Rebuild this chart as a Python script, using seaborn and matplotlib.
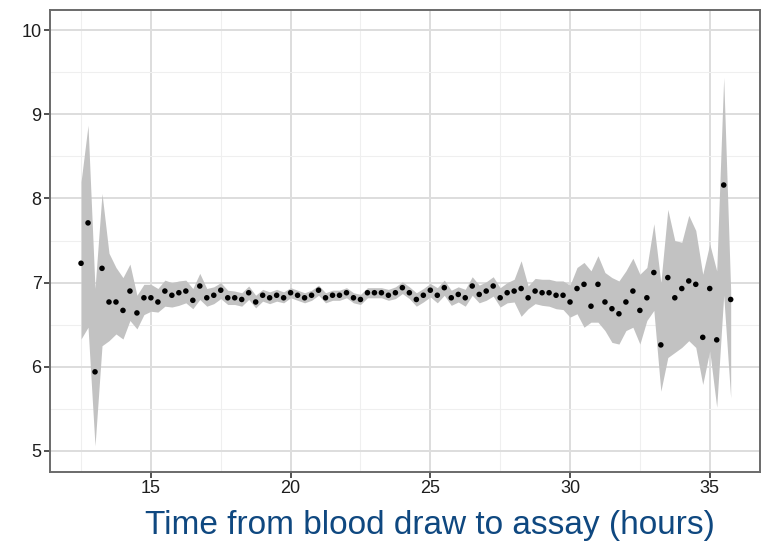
import matplotlib
matplotlib.use("Agg")
import matplotlib.pyplot as plt
from matplotlib.ticker import MultipleLocator
import seaborn as sns
import pandas as pd

hours = [12.5, 12.75, 13.0, 13.25, 13.5, 13.75, 14.0, 14.25, 14.5, 14.75,
         15.0, 15.25, 15.5, 15.75, 16.0, 16.25, 16.5, 16.75, 17.0, 17.25,
         17.5, 17.75, 18.0, 18.25, 18.5, 18.75, 19.0, 19.25, 19.5, 19.75,
         20.0, 20.25, 20.5, 20.75, 21.0, 21.25, 21.5, 21.75, 22.0, 22.25,
         22.5, 22.75, 23.0, 23.25, 23.5, 23.75, 24.0, 24.25, 24.5, 24.75,
         25.0, 25.25, 25.5, 25.75, 26.0, 26.25, 26.5, 26.75, 27.0, 27.25,
         27.5, 27.75, 28.0, 28.25, 28.5, 28.75, 29.0, 29.25, 29.5, 29.75,
         30.0, 30.25, 30.5, 30.75, 31.0, 31.25, 31.5, 31.75, 32.0, 32.25,
         32.5, 32.75, 33.0, 33.25, 33.5, 33.75, 34.0, 34.25, 34.5, 34.75,
         35.0, 35.25, 35.5, 35.75]

mean_value = [7.23, 7.71, 5.94, 7.17, 6.77, 6.77, 6.67, 6.90, 6.64, 6.82,
              6.82, 6.77, 6.90, 6.85, 6.88, 6.90, 6.79, 6.96, 6.82, 6.85,
              6.91, 6.82, 6.82, 6.80, 6.88, 6.77, 6.85, 6.82, 6.85, 6.82,
              6.88, 6.85, 6.82, 6.85, 6.91, 6.82, 6.85, 6.85, 6.88, 6.82,
              6.80, 6.88, 6.88, 6.88, 6.85, 6.88, 6.94, 6.88, 6.80, 6.85,
              6.91, 6.85, 6.94, 6.82, 6.86, 6.82, 6.96, 6.86, 6.90, 6.96,
              6.82, 6.88, 6.90, 6.93, 6.82, 6.90, 6.88, 6.88, 6.85, 6.85,
              6.77, 6.93, 6.98, 6.72, 6.98, 6.77, 6.69, 6.63, 6.77, 6.90,
              6.67, 6.82, 7.12, 6.26, 7.06, 6.82, 6.93, 7.02, 6.98, 6.35,
              6.93, 6.32, 8.16, 6.80]

lower_ci = [6.33, 6.47, 5.06, 6.25, 6.31, 6.39, 6.33, 6.55, 6.45, 6.62,
            6.66, 6.65, 6.72, 6.71, 6.73, 6.76, 6.69, 6.80, 6.72, 6.75,
            6.81, 6.74, 6.74, 6.72, 6.80, 6.70, 6.78, 6.75, 6.78, 6.76,
            6.82, 6.79, 6.76, 6.79, 6.85, 6.76, 6.79, 6.79, 6.82, 6.76,
            6.74, 6.82, 6.82, 6.82, 6.79, 6.81, 6.87, 6.81, 6.72, 6.77,
            6.83, 6.76, 6.85, 6.73, 6.77, 6.72, 6.85, 6.76, 6.79, 6.84,
            6.71, 6.76, 6.77, 6.60, 6.69, 6.75, 6.73, 6.72, 6.69, 6.68,
            6.59, 6.63, 6.47, 6.53, 6.53, 6.43, 6.29, 6.27, 6.43, 6.47,
            6.27, 6.55, 6.67, 5.71, 6.11, 6.17, 6.23, 6.31, 6.23, 5.79,
            6.19, 5.52, 6.85, 5.63]

upper_ci = [8.20, 8.87, 6.93, 8.06, 7.35, 7.18, 7.06, 7.22, 6.85, 6.98,
            6.98, 6.93, 7.03, 7.00, 7.02, 7.03, 6.93, 7.11, 6.93, 6.95,
            7.00, 6.91, 6.90, 6.88, 6.96, 6.85, 6.92, 6.89, 6.92, 6.89,
            6.94, 6.91, 6.88, 6.91, 6.97, 6.88, 6.91, 6.91, 6.94, 6.88,
            6.86, 6.94, 6.94, 6.94, 6.92, 6.95, 7.01, 6.95, 6.88, 6.93,
            6.99, 6.94, 7.03, 6.91, 6.95, 6.92, 7.07, 6.97, 7.01, 7.07,
            6.94, 7.00, 7.04, 7.26, 6.96, 7.05, 7.04, 7.04, 7.02, 7.02,
            6.97, 7.18, 7.24, 7.14, 7.32, 7.12, 7.06, 7.02, 7.14, 7.29,
            7.10, 7.18, 7.70, 7.00, 7.87, 7.50, 7.48, 7.80, 7.62, 7.10,
            7.46, 7.14, 9.44, 6.90]

x_ticks = [15, 20, 25, 30, 35]
y_ticks = [5, 6, 7, 8, 9, 10]
x_label = "Time from blood draw to assay (hours)"

assert len(hours) == len(mean_value) == len(lower_ci) == len(upper_ci)

df = pd.DataFrame({"hours": hours, "value": mean_value,
                   "lower": lower_ci, "upper": upper_ci})

sns.set_theme(style="white")
plt.rcParams["font.family"] = ["Liberation Sans", "DejaVu Sans"]

fig = plt.figure(figsize=(7.65, 5.49), dpi=100)
ax = fig.add_axes([0.0654, 0.1403, 0.9281, 0.8415])

ax.fill_between(df["hours"], df["lower"], df["upper"],
                color="#C2C2C2", linewidth=0, zorder=2)
sns.scatterplot(data=df, x="hours", y="value", ax=ax, color="black",
                s=16, marker="o", edgecolor="none", zorder=3)

ax.set_xlim(11.39, 36.8)
ax.set_ylim(4.75, 10.24)
ax.set_xticks(x_ticks)
ax.set_yticks(y_ticks)
ax.xaxis.set_minor_locator(MultipleLocator(2.5))
ax.yaxis.set_minor_locator(MultipleLocator(0.5))
ax.grid(which="major", color="#DDDDDD", linewidth=1.4, zorder=0)
ax.grid(which="minor", color="#EFEFEF", linewidth=0.8, zorder=0)
ax.set_axisbelow(True)

for sp in ax.spines.values():
    sp.set_color("#6A6A6A")
    sp.set_linewidth(1.4)

ax.tick_params(axis="both", which="major", direction="out", length=4,
               width=1.2, color="#333333", labelsize=13, labelcolor="#1E1E1E",
               bottom=True, left=True, pad=2)
ax.tick_params(axis="both", which="minor", length=0)

ax.set_xlabel("")
ax.set_ylabel("")
fig.text(0.562, 0.028, x_label, ha="center", va="baseline",
         fontsize=24, color="#0F4880")

fig.savefig("out.png", dpi=100)
